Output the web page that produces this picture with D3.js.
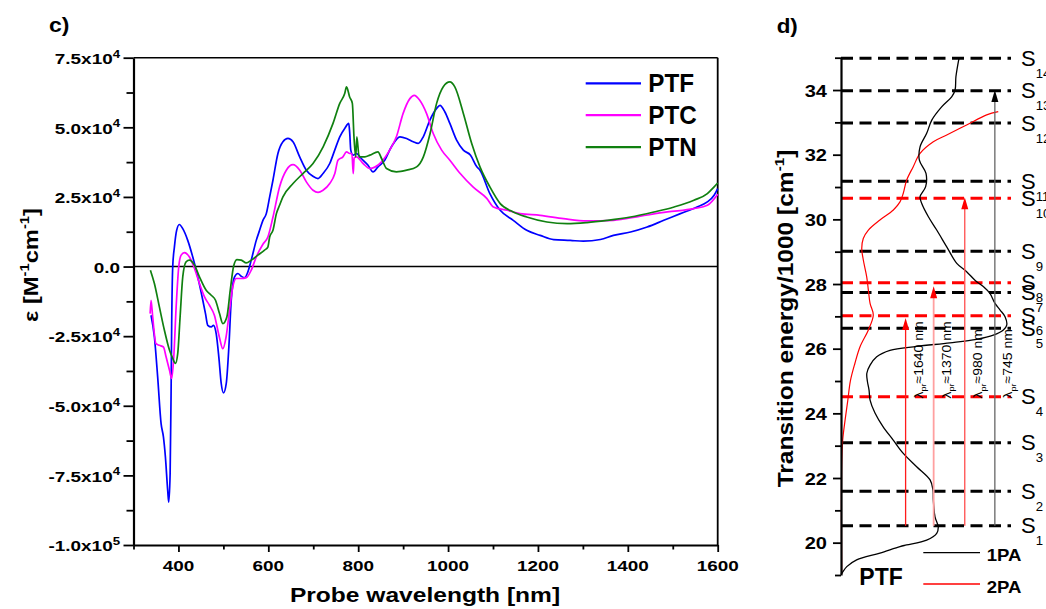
<!DOCTYPE html>
<html><head><meta charset="utf-8">
<script src="https://cdn.jsdelivr.net/npm/d3@7"></script>
<style>
body{margin:0;background:#fff}
svg{display:block}
text{font-family:"Liberation Sans",Arial,Helvetica,sans-serif}
</style>
</head><body>
<svg id="chart" width="1046" height="609"></svg>
<script>
// ---------------- Panel c data (epsilon in units of 1e4 M^-1 cm^-1) ----------------
const seriesNames = ["PTF", "PTC", "PTN"];
const ptfWl  = [339,346.5,353.8,361.4,366.6,371,376.1,378.4,381.5,383.7,385,387.3,391,396,402,409.6,420.7,431.9,443,454.2,460.2,465.3,472.9,478,484,489.9,495.2,500.3,506.4,512.2,517.5,524.9,532.2,539.8,547.2,554.5,562,573.2,580.6,588,595.5,603,610.3,621.4,632.5,643.7,654.9,669.8,684.6,699.5,710.6,721.8,736.7,747.8,759,770,779,781,783.5,788.6,796,807,822,833,844,859,874,893,907.7,922.5,933.6,944.8,959.6,974.5,982,993,1004,1019,1034,1050,1064,1071,1093,1116,1145,1175,1205,1235,1272,1301,1339,1368,1406,1443,1480,1517,1554,1577,1592,1600];
const ptfEps = [-1.75,-2.53,-3.97,-5.64,-6.12,-6.84,-8.04,-8.46,-7.44,-4.44,-2.05,0,0.7,1.30,1.51,1.36,0.94,0.34,-0.37,-1.21,-1.69,-2.11,-2.17,-2.11,-2.41,-3.25,-4.2,-4.54,-4.2,-2.89,-1.21,-0.37,-0.25,-0.35,-0.4,-0.19,0.23,0.94,1.30,1.66,1.9,2.5,3.1,4.06,4.48,4.6,4.48,3.94,3.46,3.24,3.16,3.34,3.7,4.18,4.66,4.96,5.14,4.83,4.18,4.0,4.06,3.88,3.64,3.40,3.58,3.82,4.30,4.66,4.6,4.48,4.42,4.66,5.26,5.68,5.79,5.55,5.14,4.54,4.18,4.0,3.58,3.46,2.62,2.02,1.66,1.30,1.12,0.97,0.94,0.91,0.97,1.12,1.24,1.42,1.66,1.9,2.14,2.32,2.56,2.8];

const ptcWl  = [337,339,342.7,350,357.6,366.6,372.6,380,385,389.6,394.9,400.7,406,413.4,424.5,435.7,446.8,458,469,480,491,498.8,506,513.7,521,528.6,539.8,551,562,573,588,599,610,625,640,655,670,684.6,699.5,710.6,721.8,736.7,748,755,766,774,781,786,789,791,796,811,826,837,852,870,885,900,915,924.6,937,952,967,985.7,1004,1027,1056,1086,1101,1131,1160,1205,1257,1309,1368,1428,1488,1547,1577,1600];
const ptcEps = [-1.69,-1.21,-1.81,-2.77,-2.83,-2.89,-3.25,-3.72,-4.02,-3.25,-1.45,0,0.41,0.5,0.34,-0.07,-0.61,-1.09,-1.39,-1.75,-2.53,-2.95,-2.53,-1.57,-0.73,-0.43,-0.43,-0.4,-0.13,0.34,0.8,1.06,1.75,2.86,3.46,3.66,3.46,3.04,2.74,2.66,2.74,2.98,3.34,3.82,3.94,4.12,4.06,4.06,3.34,3.9,3.94,3.7,3.52,3.57,3.76,4.18,4.66,5.5,6.03,6.15,5.97,5.5,4.78,4.18,3.82,3.34,2.85,2.45,2.14,2.02,1.9,1.84,1.72,1.64,1.66,1.81,1.96,2.08,2.2,2.6];

const ptnWl  = [337.6,346.5,357.6,368.8,380,387.3,393.3,398.4,403.7,409.6,417,424.5,435.7,446.8,461.7,472.9,482.5,491.4,498.8,507.7,515.3,522.6,530,539.8,551,562,576.8,591.7,599,603,610.3,618,625,632.5,655,677,699.5,722,744,759,770,774,781,787,790.6,794.5,797,802,815,826,844,852,863,885,908,930,945,960,974.5,989,1004,1015,1034,1052.6,1071,1093,1116,1145,1175,1220,1265,1309,1354,1406,1458,1503,1547,1577,1592,1600];
const ptnEps = [-0.13,-0.61,-1.45,-2.29,-3.0,-3.3,-3.48,-3.13,-1.81,-0.37,0.17,0.23,0.05,-0.37,-0.85,-1.03,-1.21,-1.69,-2.05,-1.81,-0.85,0,0.25,0.23,0.13,0.23,0.41,0.59,0.7,1.06,1.30,1.9,2.2,2.5,2.98,3.34,3.7,4.3,5.14,5.86,6.21,6.45,6.09,5.86,4.66,3.94,4.66,3.94,3.94,4.0,4.12,3.88,3.52,3.40,3.46,3.58,3.94,4.78,5.86,6.45,6.63,6.45,5.5,4.42,3.58,2.86,2.26,1.96,1.78,1.6,1.54,1.58,1.66,1.78,1.96,2.14,2.38,2.62,2.86,3.0];

const xTicksMajor = [400,600,800,1000,1200,1400,1600];
const xTicksMinor = [300,500,700,900,1100,1300,1500];
const yTicksMajor = [-10,-7.5,-5,-2.5,0,2.5,5,7.5];
const yTicksMinor = [-8.75,-6.25,-3.75,-1.25,1.25,3.75,6.25];

// ---------------- Panel d data ----------------
const levelNames   = ["1","2","3","4","5","6","7","8","9","10","11","12","13","14"];
const levelEnergy  = [20.52,21.59,23.09,24.51,26.63,27.02,27.74,28.04,29.01,30.65,31.18,32.98,33.98,34.98];
const levelKind    = ["1PA","1PA","1PA","2PA","1PA","2PA","1PA","2PA","1PA","2PA","1PA","1PA","1PA","1PA"];

const pa1Energy = [19.02,19.06,19.26,19.47,19.68,19.88,19.93,20.08,20.29,20.49,20.80,21.32,21.63,21.94,22.35,22.77,23.18,23.59,24.01,24.41,24.72,25.0,25.24,25.49,25.75,25.95,26.07,26.18,26.29,26.42,26.58,26.73,26.99,27.20,27.40,27.71,27.92,28.12,28.38,28.64,29.15,29.67,30.08,30.49,30.70,31.01,31.42,31.83,32.24,32.66,33.07,33.48,33.79,34.0,34.41,34.98];
const pa1Signal = [0.0,0.006,0.034,0.092,0.229,0.347,0.386,0.504,0.563,0.572,0.553,0.543,0.541,0.524,0.445,0.365,0.306,0.247,0.2,0.171,0.165,0.155,0.152,0.171,0.21,0.288,0.445,0.641,0.798,0.896,0.955,0.975,0.965,0.935,0.906,0.876,0.837,0.788,0.739,0.681,0.622,0.563,0.514,0.475,0.465,0.498,0.5,0.461,0.465,0.504,0.534,0.592,0.651,0.671,0.676,0.694];

const pa2Energy = [19.02,22.37,23.18,23.79,24.4,25.0,25.55,26.06,26.58,27.04,27.40,27.81,28.23,28.75,29.10,29.41,29.67,29.98,30.29,30.54,30.80,31.21,31.63,32.04,32.40,32.61,32.92,33.23,33.33];
const pa2Signal = [0.004,0.004,0.01,0.024,0.04,0.055,0.082,0.112,0.161,0.19,0.171,0.161,0.151,0.131,0.122,0.131,0.161,0.229,0.308,0.347,0.366,0.386,0.425,0.465,0.543,0.622,0.739,0.857,0.925];

const probeLabels  = ["1640","1370","980","745"];
const probeSignal  = [0.38,0.545,0.728,0.905];   // horizontal position on the intensity axis
const probeStartE  = [20.52,20.52,20.52,20.52];
const probeEndE    = [26.95,27.93,30.68,34.0];
const yTicksMajorD = [20,22,24,26,28,30,32,34];
const yTicksMinorD = [19,21,23,25,27,29,31,33,35];

// ---------------- helpers ----------------
const svg = d3.select("#chart");
const FONT = '"Liberation Sans",Arial,Helvetica,sans-serif';

function addText(parent, x, y, parts, o) {
  o = o || {};
  const size = o.size || 16;
  let tr = `translate(${x},${y})`;
  if (o.rotate) tr += ` rotate(${o.rotate})`;
  const g = parent.append("g").attr("transform", tr);
  const t = g.append("text")
    .attr("transform", `scale(${o.sx || 1},1)`)
    .attr("font-size", size)
    .attr("font-weight", o.weight || "bold")
    .attr("text-anchor", o.anchor || "start")
    .attr("fill", o.fill || "#000");
  let off = 0;
  parts.forEach(p => {
    const [str, kind] = Array.isArray(p) ? p : [p, "n"];
    let target = 0, fs = size;
    if (kind === "sup") { target = -(o.supShift || 0.42) * size; fs = size * (o.supScale || 0.68); }
    if (kind === "sub") { target = (o.subShift || 0.3) * size; fs = size * (o.subScale || 0.62); }
    t.append("tspan").attr("dy", target - off).attr("font-size", fs).text(str);
    off = target;
  });
  return g;
}

// ================= Panel c =================
const xC = d3.scaleLinear().domain([300, 1600]).range([133.5, 717.7]);
const yC = d3.scaleLinear().domain([-10, 7.5]).range([545, 57.7]);
const gc = svg.append("g");

// frame (top/right)
gc.append("line").attr("x1", xC(300)).attr("x2", xC(1600)).attr("y1", yC(7.5)).attr("y2", yC(7.5)).attr("stroke", "#000").attr("stroke-width", 1.5);
gc.append("line").attr("x1", xC(1600)).attr("x2", xC(1600)).attr("y1", yC(7.5)).attr("y2", yC(-10)).attr("stroke", "#000").attr("stroke-width", 1.8);
// zero line
gc.append("line").attr("x1", xC(300)).attr("x2", xC(1600)).attr("y1", yC(0)).attr("y2", yC(0)).attr("stroke", "#000").attr("stroke-width", 1.5);

function styleAxis(g, w) {
  g.select(".domain").attr("stroke-width", w);
  g.selectAll(".tick line").attr("stroke-width", 1.8);
}
const axL = gc.append("g").attr("transform", `translate(${xC(300)},0)`)
  .call(d3.axisLeft(yC).tickValues(yTicksMajor).tickSize(10).tickSizeOuter(0).tickFormat(""));
styleAxis(axL, 2.2);
gc.append("g").attr("transform", `translate(${xC(300)},0)`)
  .call(d3.axisLeft(yC).tickValues(yTicksMinor).tickSize(7).tickSizeOuter(0).tickFormat(""))
  .call(g => { g.select(".domain").remove(); g.selectAll(".tick line").attr("stroke-width", 1.8); });
const axB = gc.append("g").attr("transform", `translate(0,${yC(-10)})`)
  .call(d3.axisBottom(xC).tickValues(xTicksMajor).tickSize(7).tickSizeOuter(0).tickFormat(""));
styleAxis(axB, 2.2);
gc.append("g").attr("transform", `translate(0,${yC(-10)})`)
  .call(d3.axisBottom(xC).tickValues(xTicksMinor).tickSize(4.5).tickSizeOuter(0).tickFormat(""))
  .call(g => { g.select(".domain").remove(); g.selectAll(".tick line").attr("stroke-width", 1.8); });

// tick labels
yTicksMajor.forEach(v => {
  let parts;
  if (v === 0) parts = [["0.0", "n"]];
  else if (Math.abs(v) >= 10) parts = [[(v / 10).toFixed(1) + "x10", "n"], [String(5), "sup"]];
  else parts = [[v.toFixed(1) + "x10", "n"], [String(4), "sup"]];
  addText(gc, 120, yC(v) + 6.3, parts, { size: 15.5, sx: 1.22, anchor: "end", supShift: 0.4, supScale: 0.7 });
});
xTicksMajor.forEach(v => {
  addText(gc, xC(v), 570.5, [[String(v), "n"]], { size: 15.5, sx: 1.22, anchor: "middle" });
});

// series
const lineC = d3.line().x(d => xC(d[0])).y(d => yC(d[1])).curve(d3.curveMonotoneX);
const seriesData = [d3.zip(ptfWl, ptfEps), d3.zip(ptcWl, ptcEps), d3.zip(ptnWl, ptnEps)];
const seriesColor = d3.scaleOrdinal().domain(seriesNames).range(["#0000ff", "#ff00ff", "#108010"]);
seriesData.forEach((d, i) => {
  gc.append("path").datum(d).attr("d", lineC).attr("fill", "none")
    .attr("stroke", seriesColor(seriesNames[i])).attr("stroke-width", 1.7).attr("stroke-linejoin", "round");
});

// legend
seriesNames.forEach((n, i) => {
  const ly = 83.3 + i * 31.9;
  gc.append("line").attr("x1", 585.7).attr("x2", 641).attr("y1", ly).attr("y2", ly)
    .attr("stroke", seriesColor(n)).attr("stroke-width", 2.2);
  addText(gc, 648.3, ly + 8.4, [[n, "n"]], { size: 25, sx: 0.97 });
});

// titles
addText(gc, 425, 601.7, [["Probe wavelength [nm]", "n"]], { size: 21, sx: 1.17, anchor: "middle" });
addText(gc, 38, 265, [["ε [M", "n"], ["-1", "sup"], ["cm", "n"], ["-1", "sup"], ["]", "n"]],
  { size: 21, sx: 1.13, anchor: "middle", rotate: -90, supShift: 0.42, supScale: 0.62 });
addText(gc, 49, 31.5, [["c)", "n"]], { size: 20, sx: 1.15 });

// ================= Panel d =================
const yD = d3.scaleLinear().domain([19, 35]).range([575, 57.7]);
const xD = d3.scaleLinear().domain([0, 1]).range([841, 1011]);
const gd = svg.append("g");
const kindColor = d3.scaleOrdinal().domain(["1PA", "2PA"]).range(["#000000", "#ff0000"]);

// dashed levels
levelEnergy.forEach((e, i) => {
  gd.append("line").attr("x1", xD(0)).attr("x2", xD(1)).attr("y1", yD(e)).attr("y2", yD(e))
    .attr("stroke", kindColor(levelKind[i])).attr("stroke-width", 3).attr("stroke-dasharray", "12,6.5");
  addText(gd, 1021, yD(e) + 7.5, [["S", "n"], [levelNames[i], "sub"]],
    { size: 22, weight: "normal", subShift: 0.55, subScale: 0.6 });
});

// curves
const lineD = d3.line().x(d => xD(d[1])).y(d => yD(d[0])).curve(d3.curveCatmullRom.alpha(0.5));
gd.append("path").datum(d3.zip(pa2Energy, pa2Signal)).attr("d", lineD).attr("fill", "none")
  .attr("stroke", "#ff0000").attr("stroke-width", 1.2);
gd.append("path").datum(d3.zip(pa1Energy, pa1Signal)).attr("d", lineD).attr("fill", "none")
  .attr("stroke", "#000").attr("stroke-width", 1.3);

// axis
const axD = gd.append("g").attr("transform", `translate(${xD(0)},0)`)
  .call(d3.axisLeft(yD).tickValues(yTicksMajorD).tickSize(8).tickSizeOuter(0).tickFormat(""));
styleAxis(axD, 2.2);
gd.append("g").attr("transform", `translate(${xD(0)},0)`)
  .call(d3.axisLeft(yD).tickValues(yTicksMinorD).tickSize(6).tickSizeOuter(0).tickFormat(""))
  .call(g => { g.select(".domain").remove(); g.selectAll(".tick line").attr("stroke-width", 1.8); });
yTicksMajorD.forEach(v => {
  addText(gd, 827, yD(v) + 6.5, [[String(v), "n"]], { size: 16, sx: 1.25, anchor: "end" });
});

// arrows
const arrowLine = ["#ff1a1a", "#ffa0a0", "#ff4d4d", "#666666"];
const arrowHead = ["#ff0000", "#ff0000", "#ff0000", "#000000"];
probeLabels.forEach((lab, i) => {
  const x = xD(probeSignal[i]);
  const y0 = yD(probeStartE[i]), y1 = yD(probeEndE[i]);
  gd.append("line").attr("x1", x).attr("x2", x).attr("y1", y0).attr("y2", y1 + 8)
    .attr("stroke", arrowLine[i]).attr("stroke-width", i === 1 ? 1.8 : 1.3);
  gd.append("path").attr("d", `M${x},${y1} L${x - 3.5},${y1 + 12} L${x + 3.5},${y1 + 12} Z`)
    .attr("fill", arrowHead[i]);
  addText(gd, x + 17, 398.5, [["λ", "n"], ["pr", "sub"], ["≈" + lab + " nm", "n"]],
    { size: 12.5, sx: 1.12, rotate: -90, weight: "normal", subShift: 0.3, subScale: 0.65 });
});

// legend d
gd.append("line").attr("x1", 923.3).attr("x2", 980).attr("y1", 552.7).attr("y2", 552.7).attr("stroke", "#000").attr("stroke-width", 1.3);
gd.append("line").attr("x1", 923.3).attr("x2", 980).attr("y1", 584).attr("y2", 584).attr("stroke", "#ff0000").attr("stroke-width", 1.3);
addText(gd, 986.7, 561, [["1PA", "n"]], { size: 16.3, sx: 1.14 });
addText(gd, 986.7, 592.7, [["2PA", "n"]], { size: 16.3, sx: 1.14 });
addText(gd, 859.3, 585, [["PTF", "n"]], { size: 23, sx: 1.0 });

// titles d
addText(gd, 793, 318.5, [["Transition energy/1000 [cm", "n"], ["-1", "sup"], ["]", "n"]],
  { size: 21.5, sx: 1.14, anchor: "middle", rotate: -90, supScale: 0.62 });
addText(gd, 776.7, 33, [["d)", "n"]], { size: 20, sx: 1.12 });
</script>
</body></html>
